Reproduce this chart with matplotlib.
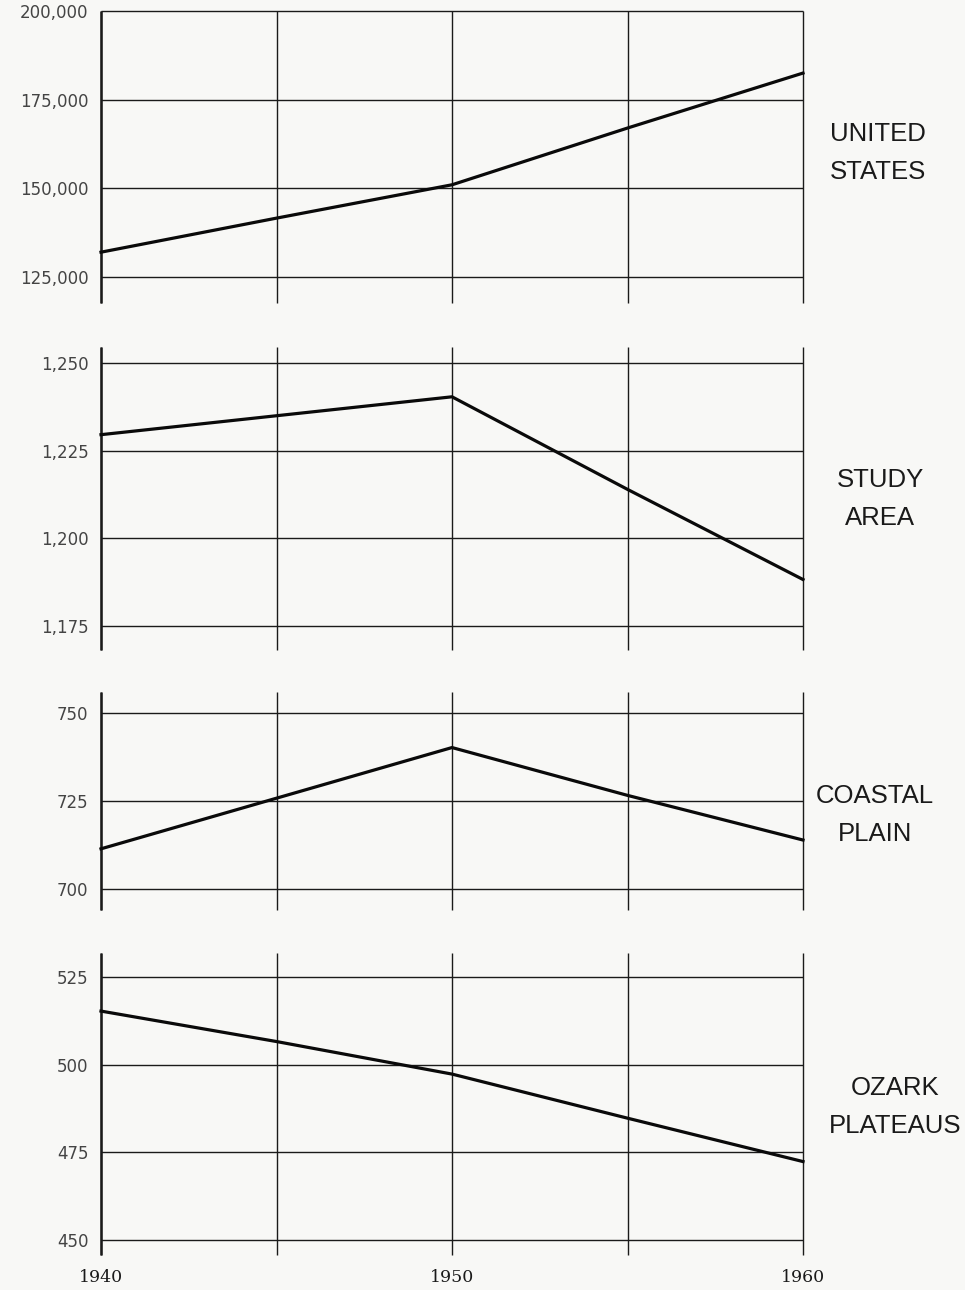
import matplotlib
matplotlib.use("Agg")
import matplotlib.pyplot as plt
from matplotlib.ticker import FuncFormatter

# population (thousands) at five-year steps
years = [1940, 1945, 1950, 1955, 1960]
us_pop = [132000, 141600, 151000, 167000, 182500]
study_pop = [1229.6, 1235.0, 1240.4, 1214.0, 1188.3]
coastal_pop = [711.4, 725.8, 740.2, 726.6, 713.9]
ozark_pop = [515.4, 506.7, 497.4, 484.8, 472.4]

region_labels = ["UNITED\nSTATES", "STUDY\nAREA", "COASTAL\nPLAIN", "OZARK\nPLATEAUS"]
us_ticks = [125000, 150000, 175000, 200000]
study_ticks = [1175, 1200, 1225, 1250]
coastal_ticks = [700, 725, 750]
ozark_ticks = [450, 475, 500, 525]
year_labels = ["1940", "", "1950", "", "1960"]

panels = [
    (us_pop, us_ticks, (117670, 200000), (11, 303)),
    (study_pop, study_ticks, (1168.2, 1254.6), (347, 650)),
    (coastal_pop, coastal_ticks, (694, 756), (692, 910)),
    (ozark_pop, ozark_ticks, (445.7, 532), (953, 1255)),
]

W, H = 965, 1290
bg = "#f8f8f6"
ink = "#1a1a1a"
fig = plt.figure(figsize=(W / 100, H / 100), dpi=100, facecolor=bg)

x0, x1 = 101, 803
axes = []
for i, (vals, ticks, ylim, (top, bot)) in enumerate(panels):
    ax = fig.add_axes([x0 / W, 1 - bot / H, (x1 - x0) / W, (bot - top) / H])
    ax.set_facecolor(bg)
    ax.set_xlim(years[0], years[-1])
    ax.set_ylim(*ylim)
    for s in ax.spines.values():
        s.set_visible(False)

    # grid drawn by hand so the edge lines are not clipped
    ax.hlines(ticks, years[0], years[-1], color=ink, lw=1.0, clip_on=False, zorder=1)
    ax.vlines(years, ylim[0], ylim[1], color=ink, lw=1.0, clip_on=False, zorder=1)
    ax.vlines(years[0], ylim[0], ylim[1], color=ink, lw=1.8, clip_on=False, zorder=1)

    ax.plot(years, vals, color="#0a0a0a", lw=2.3, clip_on=False, zorder=3,
            solid_joinstyle="miter")

    ax.set_yticks(ticks)
    ax.yaxis.set_major_formatter(FuncFormatter(lambda v, p: f"{int(v):,}"))
    ax.tick_params(axis="y", length=0, pad=9, labelsize=12, labelcolor="#444444")
    ax.set_xticks(years)
    ax.tick_params(axis="x", length=0, pad=10)
    if i == len(panels) - 1:
        ax.set_xticklabels(year_labels, fontsize=12.5, family="DejaVu Serif", color=ink)
    else:
        ax.set_xticklabels([])
    for lab in ax.get_yticklabels():
        lab.set_family("DejaVu Sans")

    axes.append(ax)

# region names to the right of each panel
label_pos = [(878, 153), (880, 499), (875, 815), (895, 1107)]
for text, (lx, ly) in zip(region_labels, label_pos):
    fig.text(lx / W, 1 - ly / H, text, ha="center", va="center", fontsize=18.5,
             family="Liberation Sans", color=ink, linespacing=1.75)

fig.savefig("out.png", dpi=100, facecolor=bg)
